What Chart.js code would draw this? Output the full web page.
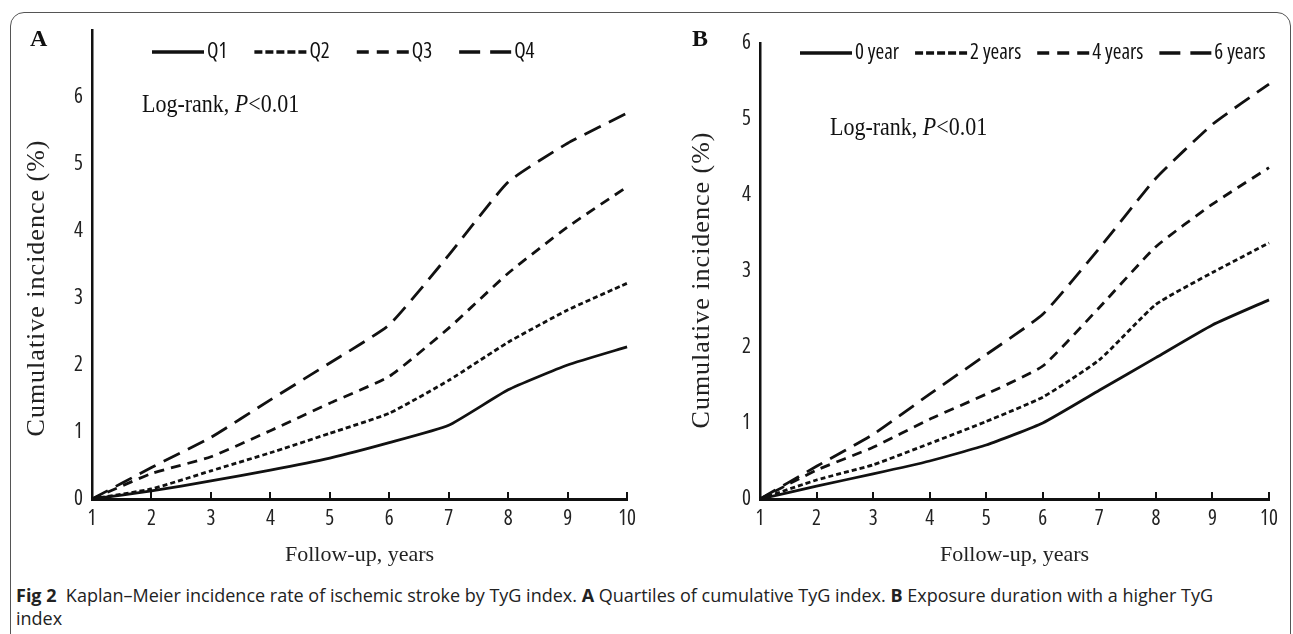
<!DOCTYPE html>
<html>
<head>
<meta charset="utf-8">
<script src="https://cdn.jsdelivr.net/npm/chart.js@4.4.1/dist/chart.umd.min.js"></script>
<style>
body { margin: 0; background: #fff; width: 1293px; height: 634px; overflow: hidden; position: relative; }
.frame { position: absolute; left: 10px; top: 12px; width: 1281px; height: 700px; border: 1.5px solid #555; border-radius: 14px; box-sizing: border-box; }
.panel { position: absolute; top: 0; height: 580px; }
#panelA { left: 0; width: 650px; }
#panelB { left: 640px; width: 653px; }
.caption { position: absolute; left: 16px; top: 584px; font-family: 'Open Sans', sans-serif; font-size: 18px; line-height: 23px; color: #222; white-space: nowrap; letter-spacing: 0; }
.caption b { font-weight: 700; }
</style>
</head>
<body>
<div class="frame"></div>
<div class="panel" id="panelA"><canvas id="chartA"></canvas></div>
<div class="panel" id="panelB"><canvas id="chartB"></canvas></div>
<div class="caption"><b>Fig 2</b>&nbsp; Kaplan–Meier incidence rate of ischemic stroke by TyG index. <b>A</b> Quartiles of cumulative TyG index. <b>B</b> Exposure duration with a higher TyG<br>index</div>
<script>
// follow-up years (x axis)
const years = [1, 2, 3, 4, 5, 6, 7, 8, 9, 10];

// panel A: quartiles of cumulative TyG index
const namesA = ['Q1', 'Q2', 'Q3', 'Q4'];
const q1 = [0, 0.12, 0.27, 0.43, 0.61, 0.84, 1.10, 1.63, 2.00, 2.27];
const q2 = [0, 0.15, 0.42, 0.69, 0.98, 1.28, 1.77, 2.34, 2.82, 3.22];
const q3 = [0, 0.38, 0.63, 1.02, 1.43, 1.83, 2.55, 3.37, 4.06, 4.66];
const q4 = [0, 0.47, 0.92, 1.48, 2.03, 2.60, 3.64, 4.73, 5.31, 5.76];
const yTicksA = [0, 1, 2, 3, 4, 5, 6];

// panel B: exposure duration with a higher TyG index
const namesB = ['0 year', '2 years', '4 years', '6 years'];
const dur0 = [0, 0.17, 0.33, 0.50, 0.71, 1.00, 1.43, 1.86, 2.29, 2.62];
const dur2 = [0, 0.25, 0.45, 0.73, 1.02, 1.34, 1.83, 2.56, 2.98, 3.37];
const dur4 = [0, 0.38, 0.68, 1.05, 1.38, 1.75, 2.52, 3.32, 3.88, 4.36];
const dur6 = [0, 0.43, 0.85, 1.38, 1.90, 2.43, 3.30, 4.22, 4.93, 5.46];
const yTicksB = [0, 1, 2, 3, 4, 5, 6];

const lineDash = [[], [5, 3], [10, 7], [18, 9]];
const legendDash = [[], [8, 3], [12, 8], [21, 10]];
const narrow = "'Open Sans', sans-serif";
const serif = "'Liberation Serif', 'Times New Roman', serif";

// letter, legend, log-rank note and y title drawn on top of each panel
const panelDecor = {
    id: 'panelDecor',
    afterDraw(chart, args, o) {
        const ctx = chart.ctx;
        ctx.save();
        ctx.fillStyle = '#111';
        ctx.strokeStyle = '#111';
        ctx.textBaseline = 'middle';
        ctx.textAlign = 'left';

        ctx.font = 'bold 24px ' + serif;
        ctx.fillText(o.letter, o.letterX, 40);

        let x = o.legendX;
        ctx.font = 'condensed 21px ' + narrow;
        chart.data.datasets.forEach((ds, i) => {
            ctx.beginPath();
            ctx.setLineDash(legendDash[i]);
            ctx.lineWidth = 3.5;
            ctx.moveTo(x, o.legendY);
            ctx.lineTo(x + 52, o.legendY);
            ctx.stroke();
            ctx.setLineDash([]);
            ctx.fillText(ds.label, x + 55, o.legendY);
            x += 55 + ctx.measureText(ds.label).width + o.legendGap;
        });

        // the figure's serif text is slightly tall, squeeze it sideways
        ctx.save();
        ctx.translate(o.logX, o.logY);
        ctx.scale(0.88, 1);
        let lx = 0;
        ctx.font = '25px ' + serif;
        ctx.fillText('Log-rank, ', lx, 0);
        lx += ctx.measureText('Log-rank, ').width;
        ctx.font = 'italic 25px ' + serif;
        ctx.fillText('P', lx, 0);
        lx += ctx.measureText('P').width;
        ctx.font = '25px ' + serif;
        ctx.fillText('<0.01', lx, 0);
        ctx.restore();

        ctx.translate(o.yTitleX, o.yTitleY);
        ctx.rotate(-Math.PI / 2);
        ctx.textAlign = 'center';
        ctx.font = '26px ' + serif;
        ctx.letterSpacing = '1px';
        ctx.fillStyle = '#222';
        ctx.fillText('Cumulative incidence (%)', 0, 0);
        ctx.letterSpacing = '0px';
        ctx.restore();
    }
};

function makePanel(canvasId, names, series, yMax, yTicks, p) {
    const tickFont = { family: narrow, size: 21, weight: '400 condensed' };
    return new Chart(document.getElementById(canvasId), {
        type: 'line',
        data: {
            labels: years,
            datasets: names.map((n, i) => ({
                label: n,
                data: series[i],
                borderColor: '#111',
                borderWidth: 2.8,
                borderDash: lineDash[i],
                pointRadius: 0,
                tension: 0.15,
                fill: false
            }))
        },
        options: {
            responsive: true,
            maintainAspectRatio: false,
            animation: false,
            layout: { padding: { left: 0, right: p.right, top: p.top, bottom: 0 } },
            plugins: {
                legend: { display: false },
                tooltip: { enabled: false },
                panelDecor: p.decor
            },
            scales: {
                x: {
                    type: 'category',
                    offset: false,
                    grid: { display: true, drawOnChartArea: false, drawTicks: true, tickLength: -7, color: '#111', lineWidth: 2 },
                    border: { display: true, color: '#111', width: 3 },
                    ticks: { color: '#222', font: tickFont, padding: 14, maxRotation: 0, autoSkip: false },
                    title: { display: true, text: 'Follow-up, years', color: '#222', font: { family: serif, size: 22 }, padding: { top: 0, bottom: 12 } },
                    afterFit: s => { s.height = 81; }
                },
                y: {
                    min: 0,
                    max: yMax,
                    afterBuildTicks: s => { s.ticks = yTicks.map(v => ({ value: v })); },
                    grid: { display: false, drawTicks: false },
                    border: { display: true, color: '#111', width: 2.5 },
                    ticks: { color: '#222', font: tickFont, padding: 9 },
                    afterFit: s => { s.width = p.yWidth; }
                }
            }
        },
        plugins: [panelDecor]
    });
}

makePanel('chartA', namesA, [q1, q2, q3, q4], 7, yTicksA, {
    right: 20, top: 30, yWidth: 92,
    decor: { letter: 'A', letterX: 30, legendX: 152, legendY: 52, legendGap: 27, logX: 142, logY: 105, yTitleX: 37, yTitleY: 288 }
});
makePanel('chartB', namesB, [dur0, dur2, dur4, dur6], 6, yTicksB, {
    right: 24, top: 43, yWidth: 120,
    decor: { letter: 'B', letterX: 52, legendX: 160, legendY: 53, legendGap: 16, logX: 190, logY: 128, yTitleX: 62, yTitleY: 280 }
});
</script>
</body>
</html>
